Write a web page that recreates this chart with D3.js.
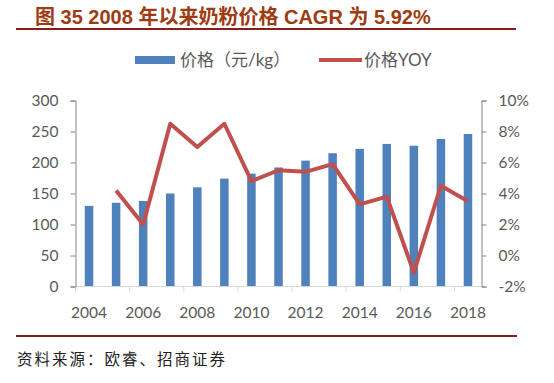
<!DOCTYPE html>
<html><head><meta charset="utf-8">
<script src="https://cdn.jsdelivr.net/npm/d3@7"></script>
<style>
html,body{margin:0;padding:0;background:#fff;}
svg{display:block;}
</style></head>
<body>
<svg id="c" width="554" height="383"></svg>
<script>
const years = [2004,2005,2006,2007,2008,2009,2010,2011,2012,2013,2014,2015,2016,2017,2018];
const price = [130,135,138,150,160,174,182,192,203,215,222,230,227,238,246];
const yoy = [null,4.2,2.0,8.5,7.0,8.5,4.8,5.5,5.4,5.9,3.3,3.8,-1.1,4.5,3.5];
const leftTicks = [0,50,100,150,200,250,300];
const rightTicks = [-2,0,2,4,6,8,10];
const xLabelYears = [2004,2006,2008,2010,2012,2014,2016,2018];
const titleText = "图 35 2008 年以来奶粉价格 CAGR 为 5.92%";
const legendLabels = ["价格（元/kg）","价格YOY"];
const sourceText = "资料来源：欧睿、招商证券";

const svg = d3.select("#c");
const numFont = "Lato, 'Noto Sans CJK SC', sans-serif";
const grey = "#595959";

// title
svg.append("text").attr("x",35).attr("y",24)
  .attr("font-family","'Liberation Sans','Noto Sans CJK SC',sans-serif")
  .attr("font-weight","bold").attr("font-size",20).attr("fill","#9E3B12")
  .text(titleText);
svg.append("line").attr("x1",16).attr("x2",516).attr("y1",29).attr("y2",29)
  .attr("stroke","#8B1C1C").attr("stroke-width",2);

// scales
const L = 75.5, R = 481.5, T = 100.5, B = 286.5;
const x = d3.scaleBand().domain(years).range([L,R]).padding(0);
const yL = d3.scaleLinear().domain([0,300]).range([B,T]);
const yR = d3.scaleLinear().domain([-2,10]).range([B,T]);

// bars
const bw = 8.5;
svg.append("g").selectAll("rect").data(years).join("rect")
  .attr("x",(d)=>x(d)+x.bandwidth()/2-bw/2)
  .attr("y",(d,i)=>yL(price[i]))
  .attr("width",bw)
  .attr("height",(d,i)=>yL(0)-yL(price[i]))
  .attr("fill","#4F81BD");

// bottom axis
const gx = svg.append("g").attr("transform",`translate(0,${B})`);
gx.append("line").attr("x1",L).attr("x2",R).attr("stroke","#D9D9D9").attr("stroke-width",1);
const bounds = d3.range(0, years.length+1, 2).map(i=> i<years.length ? x(years[i]) : R);
gx.selectAll("line.tk").data(bounds).join("line").attr("class","tk")
  .attr("x1",d=>d).attr("x2",d=>d).attr("y1",0).attr("y2",5)
  .attr("stroke","#D9D9D9");
gx.selectAll("text").data(xLabelYears).join("text")
  .attr("x",d=>x(d)+x.bandwidth()/2).attr("y",31)
  .attr("text-anchor","middle").attr("font-family",numFont)
  .attr("font-size",15.5).attr("fill",grey).text(d=>d);

// left axis
const axL = d3.axisLeft(yL).tickValues(leftTicks).tickSize(5).tickPadding(12);
const gL = svg.append("g").attr("transform",`translate(${L},0)`).call(axL);
// right axis
const axR = d3.axisRight(yR).tickValues(rightTicks).tickSize(5).tickPadding(12)
  .tickFormat(d=>d+"%");
const gR = svg.append("g").attr("transform",`translate(${R},0)`).call(axR);
[gL,gR].forEach(g=>{
  g.select(".domain").attr("stroke","#868686");
  g.selectAll(".tick line").attr("stroke","#868686");
  g.selectAll(".tick text").attr("font-family",numFont).attr("font-size",15.5).attr("fill",grey);
});

// line
const pts = years.map((d,i)=>({d, v:yoy[i]})).filter(p=>p.v!==null);
svg.append("path").datum(pts)
  .attr("d", d3.line().x(p=>x(p.d)+x.bandwidth()/2).y(p=>yR(p.v)))
  .attr("fill","none").attr("stroke","#C0504D").attr("stroke-width",4)
  .attr("stroke-linejoin","round");

// legend
const lg = svg.append("g");
lg.append("rect").attr("x",135).attr("y",56).attr("width",40).attr("height",8).attr("fill","#4F81BD");
lg.append("text").attr("x",180).attr("y",66).attr("font-family",numFont)
  .attr("font-size",17).attr("fill",grey).text(legendLabels[0]);
lg.append("line").attr("x1",319).attr("x2",362).attr("y1",60).attr("y2",60)
  .attr("stroke","#C0504D").attr("stroke-width",4);
lg.append("text").attr("x",364).attr("y",66).attr("font-family",numFont)
  .attr("font-size",17).attr("fill",grey).text(legendLabels[1]);

// footer
svg.append("line").attr("x1",16).attr("x2",517).attr("y1",336).attr("y2",336)
  .attr("stroke","#7B2020").attr("stroke-width",2);
svg.append("text").attr("x",17).attr("y",365).attr("font-family","'Noto Sans CJK SC',sans-serif")
  .attr("font-size",15.5).attr("letter-spacing",2).attr("fill","#222").text(sourceText);
</script>
</body></html>
